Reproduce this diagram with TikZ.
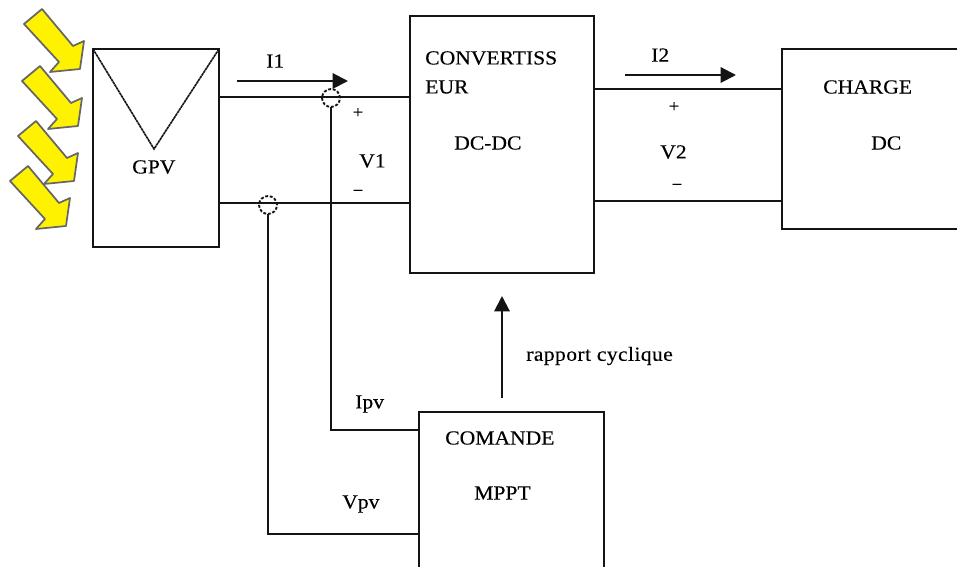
\documentclass[tikz,border=0pt]{standalone}
\usepackage{fontspec}
\setmainfont{Liberation Serif}[FakeStretch=1.08,FakeBold=0.25]
\usetikzlibrary{arrows.meta}
\definecolor{wire}{RGB}{20,20,20}
\tikzset{
  x=0.75pt,y=-0.75pt,
  wireline/.style={draw=wire,line width=1.5pt},
  blockbox/.style={wireline,fill=none,rectangle,inner sep=0pt,outer sep=0pt,anchor=north west},
  lbl/.style={inner sep=0pt,anchor=west,font=\fontsize{15}{17}\selectfont,text=black},
  small/.style={inner sep=0pt,font=\fontsize{13}{15}\selectfont,text=black},
  junction/.style={circle,draw=wire,dash pattern=on 2.2pt off 1.3pt,line width=1.4pt,minimum size=13.5pt,inner sep=0pt,outer sep=0pt,fill=none},
  flow/.style={wireline,-{Triangle[length=11.5pt,width=11.5pt]}},
  sunarrow/.style={fill=yellow,draw=black!60,line width=1.3pt,line join=round},
}
\begin{document}
\begin{tikzpicture}
\useasboundingbox (0,0) rectangle (957,567);
\clip (0,0) rectangle (957,567);
\fill[white] (0,0) rectangle (957,567);
% sun arrows
\foreach \dx/\dy in {0/0,-2/57,-6/112,-14/157}{
  \path[sunarrow,shift={(\dx*0.75pt,-\dy*0.75pt)}] (42,9)--(73,46)--(84,41)--(80,69)--(50,72)--(59,62)--(24,24)--cycle;
}
% blocks
\node[blockbox,minimum width=94.5pt,minimum height=148.5pt] (gpv) at (93,49) {};
\node[blockbox,minimum width=138pt,minimum height=192.75pt] (conv) at (410,16) {};
\node[blockbox,minimum width=150pt,minimum height=135pt] (charge) at (782,49) {};
\node[blockbox,minimum width=138.75pt,minimum height=150pt] (mppt) at (419,412) {};
% V in GPV
\coordinate (vtip) at (154,149);
\draw[draw=wire,line width=1.2pt,dash pattern=on 2pt off 0.4pt] (gpv.north west) -- (vtip) -- (gpv.north east);
% junctions
\node[junction] (j1) at (331,98) {};
\node[junction] (j2) at (268,205) {};
% power wires
\coordinate (w1) at (331,97);
\coordinate (w2) at (268,203);
\draw[wireline] (gpv.east |- w1) -- (conv.west |- w1);
\draw[wireline] (gpv.east |- w2) -- (conv.west |- w2);
\coordinate (o1) at (594,89);
\coordinate (o2) at (594,201);
\draw[wireline] (conv.east |- o1) -- (charge.west |- o1);
\draw[wireline] (conv.east |- o2) -- (charge.west |- o2);
% sense wires
\coordinate (ipvc) at (331,430);
\coordinate (vpvc) at (268,534);
\draw[wireline] (j1.south) -- (j1.south |- ipvc) -- (mppt.west |- ipvc);
\draw[wireline] (j2.south) -- (j2.south |- vpvc) -- (mppt.west |- vpvc);
% flow arrows
\coordinate (i1a) at (237,81); \coordinate (i1b) at (348,81);
\coordinate (i2a) at (625,75); \coordinate (i2b) at (736,75);
\coordinate (ra) at (502,398); \coordinate (rb) at (502,296);
\draw[flow] (i1a) -- (i1b);
\draw[flow] (i2a) -- (i2b);
\draw[flow] (ra) -- (rb);
% labels
\node[lbl] (tgpv) at (132,167) {GPV};
\node[lbl] (ti1) at (266,61) {I1};
\node[small] (tp1) at (358,113) {+};
\node[lbl] (tv1) at (359,161) {V1};
\node[small] (tm1) at (358,193) {\textminus};
\node[lbl] (tc1) at (425,58) {CONVERTISS};
\node[lbl] (tc2) at (425,87) {EUR};
\node[lbl] (tc3) at (454,143) {DC-DC};
\node[lbl] (ti2) at (651,55) {I2};
\node[small] (tp2) at (674,107) {+};
\node[lbl] (tv2) at (660,152) {V2};
\node[small] (tm2) at (677,187) {\textminus};
\node[lbl] (tl1) at (823,87) {CHARGE};
\node[lbl] (tl2) at (871,143) {DC};
\node[lbl,font=\fontsize{15}{17}\selectfont\addfontfeatures{LetterSpace=2}] (tr) at (526,356) {rapport cyclique};
\node[lbl] (tipv) at (355,404) {Ipv};
\node[lbl] (tvpv) at (342,504) {Vpv};
\node[lbl] (tm) at (445,438) {COMANDE};
\node[lbl] (tmp) at (474,493) {MPPT};
\end{tikzpicture}
\end{document}
